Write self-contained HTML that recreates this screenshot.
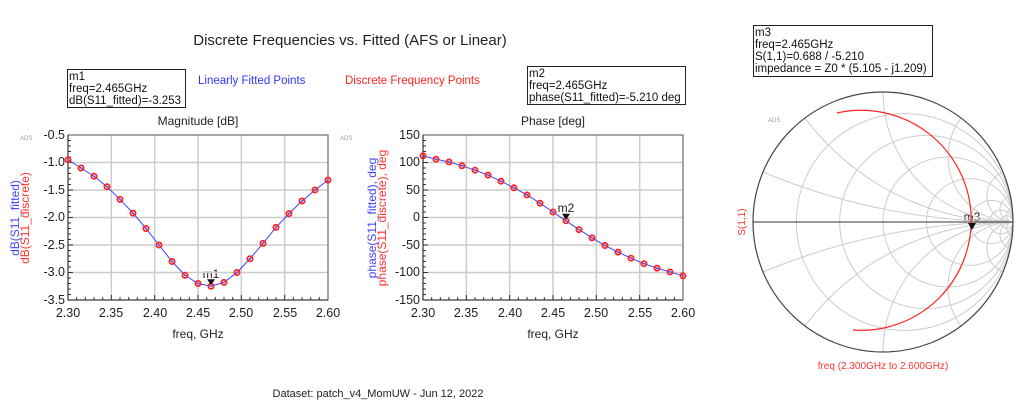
<!DOCTYPE html>
<html style="overflow:hidden;width:1024px;height:404px"><head><meta charset="utf-8"><style>
html,body{margin:0;padding:0;background:#fff;width:1024px;height:404px;overflow:hidden;font-family:"Liberation Sans",sans-serif}
svg{position:absolute;left:0;top:0;display:block}
text{font-family:"Liberation Sans",sans-serif}
</style></head><body>
<svg id="s" width="1024" height="404" viewBox="0 0 1024 404">
<text x="350" y="45" font-size="15" text-anchor="middle" fill="#222">Discrete Frequencies vs. Fitted (AFS or Linear)</text>
<rect x="67.5" y="69.5" width="118" height="38" fill="none" stroke="#222"/>
<text font-size="11.5" fill="#111"><tspan x="69" y="80">m1</tspan><tspan x="69" y="92">freq=2.465GHz</tspan><tspan x="69" y="104">dB(S11_fitted)=-3.253</tspan></text>
<text x="198" y="84" font-size="11.5" fill="#3333ff">Linearly Fitted Points</text>
<text x="345" y="84" font-size="11.5" fill="#ff2222">Discrete Frequency Points</text>
<rect x="527.5" y="66.5" width="158" height="38" fill="none" stroke="#222"/>
<text font-size="11.5" fill="#111"><tspan x="529" y="77">m2</tspan><tspan x="529" y="89">freq=2.465GHz</tspan><tspan x="529" y="101">phase(S11_fitted)=-5.210 deg</tspan></text>
<rect x="753.5" y="25.5" width="179" height="51" fill="none" stroke="#222"/>
<text font-size="11.5" fill="#111"><tspan x="755" y="36">m3</tspan><tspan x="755" y="48">freq=2.465GHz</tspan><tspan x="755" y="60">S(1,1)=0.688 / -5.210</tspan><tspan x="755" y="72">impedance = Z0 * (5.105 - j1.209)</tspan></text>
<text x="198" y="125" font-size="12" text-anchor="middle" fill="#222">Magnitude [dB]</text>
<text x="553" y="125" font-size="12" text-anchor="middle" fill="#222">Phase [deg]</text>
<text x="198" y="338" font-size="12" text-anchor="middle" fill="#222">freq, GHz</text>
<text x="553" y="338" font-size="12" text-anchor="middle" fill="#222">freq, GHz</text>
<text x="20" y="140" font-size="6" fill="#999">ADS</text>
<text x="340" y="140" font-size="6" fill="#999">ADS</text>
<text x="768" y="122" font-size="6" fill="#999">ADS</text>
<text transform="translate(19,218) rotate(-90)" font-size="12" text-anchor="middle" fill="#4444ff">dB(S11_fitted)</text>
<text transform="translate(29,218) rotate(-90)" font-size="12" text-anchor="middle" fill="#ff3333">dB(S11_discrete)</text>
<text transform="translate(376,218) rotate(-90)" font-size="12" text-anchor="middle" fill="#4444ff">phase(S11_fitted), deg</text>
<text transform="translate(386,218) rotate(-90)" font-size="12" text-anchor="middle" fill="#ff3333">phase(S11_discrete), deg</text>
<text transform="translate(745,222) rotate(-90)" font-size="10" text-anchor="middle" fill="#ff3333">S(1,1)</text>
<text x="883" y="369" font-size="10" text-anchor="middle" fill="#ff3333">freq (2.300GHz to 2.600GHz)</text>
<g font-size="12.5" fill="#222" text-anchor="end">
<text x="65" y="139">-0.5</text><text x="65" y="166">-1.0</text><text x="65" y="194">-1.5</text><text x="65" y="221">-2.0</text><text x="65" y="249">-2.5</text><text x="65" y="276">-3.0</text><text x="65" y="304">-3.5</text>
<text x="420" y="139">150</text><text x="420" y="166">100</text><text x="420" y="194">50</text><text x="420" y="221">0</text><text x="420" y="249">-50</text><text x="420" y="276">-100</text><text x="420" y="304">-150</text>
</g>
<g font-size="12.5" fill="#222" text-anchor="middle">
<text x="68" y="317">2.30</text><text x="111" y="317">2.35</text><text x="155" y="317">2.40</text><text x="198" y="317">2.45</text><text x="241" y="317">2.50</text><text x="285" y="317">2.55</text><text x="328" y="317">2.60</text>
<text x="423" y="317">2.30</text><text x="466" y="317">2.35</text><text x="510" y="317">2.40</text><text x="553" y="317">2.45</text><text x="596" y="317">2.50</text><text x="640" y="317">2.55</text><text x="683" y="317">2.60</text>
</g>
<text x="211" y="278" font-size="12" text-anchor="middle" fill="#222">m1</text>
<text x="566" y="212" font-size="12" text-anchor="middle" fill="#222">m2</text>
<text x="972" y="221" font-size="12" text-anchor="middle" fill="#222">m3</text>
<text x="378" y="397" font-size="11" text-anchor="middle" fill="#222">Dataset: patch_v4_MomUW - Jun 12, 2022</text>
<g id="g"></g>
</svg>
<script>
var g=document.getElementById('g'),h='';
function plot(x0,x1,y0,y1,vmin,vmax,data){
 var W=x1-x0,H=y1-y0;
 for(var i=0;i<=6;i++){var x=x0+W*i/6,y=y0+H*i/6;
  h+='<line x1="'+x+'" y1="'+y0+'" x2="'+x+'" y2="'+y1+'" stroke="#ccc" stroke-width="1.5"/>';
  h+='<line x1="'+x0+'" y1="'+y+'" x2="'+x1+'" y2="'+y+'" stroke="#ccc" stroke-width="1.5"/>';}
 for(var i=0;i<=30;i++){var y=y0+H*i/30;h+='<line x1="'+x0+'" y1="'+y+'" x2="'+(x0+(i%5?3:5))+'" y2="'+y+'" stroke="#333"/>';}
 for(var i=0;i<=30;i++){var x=x0+W*i/30;h+='<line x1="'+x+'" y1="'+y1+'" x2="'+x+'" y2="'+(y1-(i%5?3:5))+'" stroke="#333"/>';}
 h+='<rect x="'+x0+'" y="'+y0+'" width="'+W+'" height="'+H+'" fill="none" stroke="#666"/>';
 h+='<line x1="'+x0+'" y1="'+y0+'" x2="'+x0+'" y2="'+y1+'" stroke="#222"/><line x1="'+x0+'" y1="'+y1+'" x2="'+x1+'" y2="'+y1+'" stroke="#222"/>';
 var pts=[];
 for(var i=0;i<data.length;i++){pts.push([x0+W*i/(data.length-1),y0+H*(vmax-data[i])/(vmax-vmin)]);}
 h+='<polyline points="'+pts.map(function(p){return p.join(',')}).join(' ')+'" fill="none" stroke="#3344ff" stroke-width="1"/>';
 pts.forEach(function(p){h+='<circle cx="'+p[0]+'" cy="'+p[1]+'" r="2.6" fill="none" stroke="#ff2222" stroke-width="1.8"/><circle cx="'+p[0]+'" cy="'+p[1]+'" r="0.9" fill="#3344ff"/>';});
 var p=pts[11];h+='<path d="M'+(p[0]-4)+','+(p[1]-7)+'h8l-4,6z" fill="#111"/>';
}
plot(68,328,135,300,-3.5,-0.5,[-0.95,-1.1,-1.25,-1.44,-1.67,-1.92,-2.2,-2.5,-2.8,-3.05,-3.2,-3.25,-3.18,-3.0,-2.75,-2.47,-2.18,-1.93,-1.7,-1.5,-1.32]);
plot(423,683,135,300,-150,150,[112,106,101,94,86,77,66,54,41,26,10,-6,-22,-37,-51,-63,-74,-84,-92,-99,-106]);
var cx=883,cy=222,R=130;
h+='<defs><clipPath id="c"><circle cx="'+cx+'" cy="'+cy+'" r="'+R+'"/></clipPath></defs><g clip-path="url(#c)" fill="none" stroke="#ccc" stroke-width="1">';
[0.2,0.5,1,2,5,10,20].forEach(function(r){h+='<circle cx="'+(cx+R*r/(1+r))+'" cy="'+cy+'" r="'+(R/(1+r))+'"/>';});
[0.2,0.5,1,2,5,10,20].forEach(function(x){[1,-1].forEach(function(s){h+='<circle cx="'+(cx+R)+'" cy="'+(cy-s*R/x)+'" r="'+(R/x)+'"/>';});});
h+='</g><circle cx="'+cx+'" cy="'+cy+'" r="'+R+'" fill="none" stroke="#444" stroke-width="1.2"/>';
h+='<line x1="'+(cx-R)+'" y1="'+cy+'" x2="'+(cx+R)+'" y2="'+cy+'" stroke="#333"/>';
h+='<path d="M837,113 A110,110 0 1 1 853,330" fill="none" stroke="#ff2222" stroke-width="1.2"/>';
h+='<path d="M968,223h8l-4,7z" fill="#111"/>';
g.innerHTML=h;
</script>
</body></html>
